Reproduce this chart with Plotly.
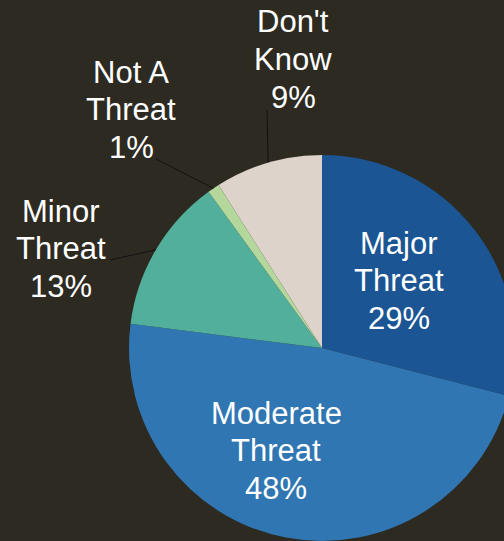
import math
import plotly.graph_objects as go

labels = ["Major Threat", "Moderate Threat", "Minor Threat", "Not A Threat", "Don't Know"]
values = [29, 48, 13, 1, 9]
colors = ["#1B5593", "#3076B2", "#52AF9B", "#B4D89C", "#DDD3CA"]
# label text split over lines
label_lines = [["Major", "Threat"], ["Moderate", "Threat"], ["Minor", "Threat"], ["Not A", "Threat"], ["Don't", "Know"]]

VW, VH = 504, 541          # visible window
W, H = 520, 541            # figure (pie is cropped at the right edge like the original)
BG = "#2D2A22"
FONT = "Arial, 'Liberation Sans', sans-serif"
FS = 31
LINE_GAP = 37.5

# pie geometry (pixels)
cx, cy, r = 322, 348, 193

# label placement: x center and first-line center (pixels); leader tails
label_pos = [(399, 243), (276, 413), (61, 211), (131, 72), (293, 22)]
leader_tail = [None, None, (110, 260), (156, 159), (267, 110)]

fig = go.Figure(go.Pie(
    labels=labels,
    values=values,
    sort=False,
    direction="clockwise",
    rotation=0,
    marker=dict(colors=colors, line=dict(width=0)),
    textinfo="none",
    hoverinfo="label+percent",
    domain=dict(x=[(cx - r) / W, (cx + r) / W],
                y=[max(0.0, (H - (cy + r)) / H), (H - (cy - r)) / H]),
    showlegend=False,
))

total = sum(values)
annotations = []
shapes = []
cum = 0
for i, v in enumerate(values):
    mid = (cum + v / 2) / total * 2 * math.pi
    cum += v
    pct = round(v / total * 100)
    lines = label_lines[i] + [f"{pct}%"]
    lx, ly = label_pos[i]
    for k, line in enumerate(lines):
        annotations.append(dict(
            x=lx / W, y=1 - (ly + k * LINE_GAP) / H, xref="paper", yref="paper",
            text=line, showarrow=False, xanchor="center", yanchor="middle",
            font=dict(family=FONT, size=FS, color="white"), align="center",
        ))
    if leader_tail[i] is not None:
        tx = cx + r * math.sin(mid)
        ty = cy - r * math.cos(mid)
        sx, sy = leader_tail[i]
        shapes.append(dict(type="line", xref="paper", yref="paper",
                           x0=sx / W, y0=1 - sy / H, x1=tx / W, y1=1 - ty / H,
                           line=dict(color="#111111", width=1)))

fig.update_layout(
    width=W, height=H,
    margin=dict(l=0, r=0, t=0, b=0),
    paper_bgcolor=BG, plot_bgcolor=BG,
    annotations=annotations, shapes=shapes,
    font=dict(family=FONT, color="white"),
)

fig.write_html(
    "out.html", config={"displayModeBar": False},
    post_script=("document.body.style.margin='0';"
                 "document.body.style.overflow='hidden';"
                 "document.documentElement.style.overflow='hidden';"
                 f"document.body.style.background='{BG}';"),
)
